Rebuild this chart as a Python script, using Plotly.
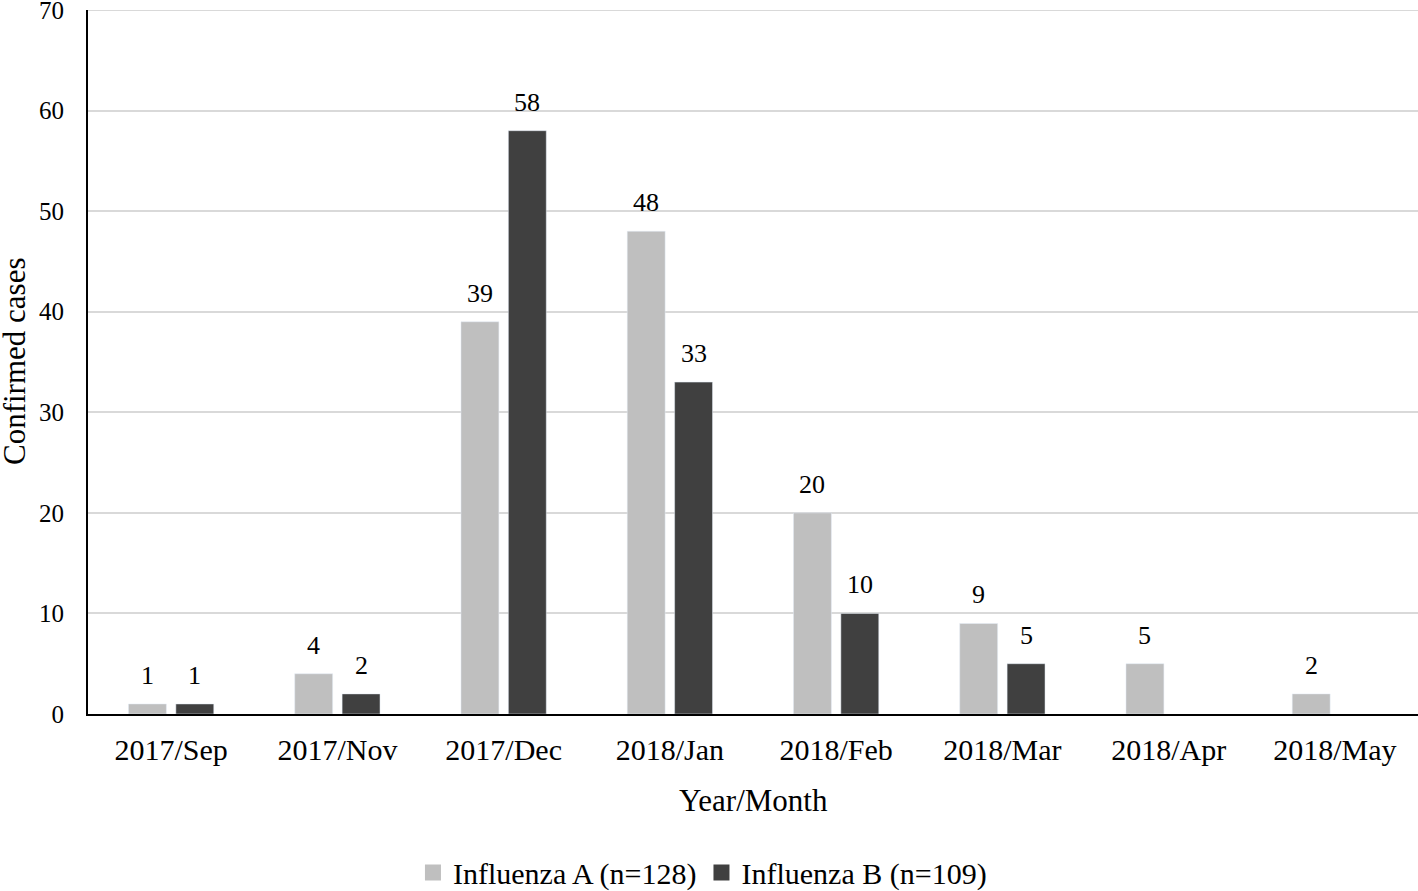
import plotly.graph_objects as go

months = ["2017/Sep", "2017/Nov", "2017/Dec", "2018/Jan", "2018/Feb", "2018/Mar", "2018/Apr", "2018/May"]
flu_a = [1, 4, 39, 48, 20, 9, 5, 2]
flu_b = [1, 2, 58, 33, 10, 5, None, None]
name_a = "Influenza A (n=128)"
name_b = "Influenza B (n=109)"
color_a = "#BFBFBF"
color_b = "#404040"
y_ticks = [0, 10, 20, 30, 40, 50, 60, 70]
y_max = 70

font_family = "Liberation Serif, Times New Roman, serif"

fig = go.Figure()
fig.add_trace(go.Bar(x=months, y=flu_a, name=name_a, marker_color=color_a, showlegend=False))
fig.add_trace(go.Bar(x=months, y=flu_b, name=name_b, marker_color=color_b, showlegend=False))
# legend entries with larger square swatches
for nm, col in [(name_a, color_a), (name_b, color_b)]:
    fig.add_trace(go.Scatter(x=[None], y=[None], mode="markers", name=nm,
                             marker=dict(symbol="square", size=17, color=col)))

# data labels above bars
half_slot = 23.7
for vals, shift in [(flu_a, -half_slot), (flu_b, half_slot)]:
    for m, v in zip(months, vals):
        if v is None:
            continue
        fig.add_annotation(x=m, y=v, xref="x", yref="y", text=str(v), showarrow=False,
                           xshift=shift, yshift=12, yanchor="bottom",
                           font=dict(size=26, family=font_family, color="black"))

# axis titles
fig.add_annotation(text="Year/Month", xref="paper", yref="paper", x=0.5, y=0,
                   yshift=-86, yanchor="middle", showarrow=False,
                   font=dict(size=31, family=font_family, color="black"))
fig.add_annotation(text="Confirmed cases", xref="paper", yref="paper", x=0, y=0.5,
                   xshift=-74, xanchor="center", yanchor="middle", textangle=-90,
                   showarrow=False, font=dict(size=31, family=font_family, color="black"))

# top gridline at the range edge
fig.add_shape(type="line", xref="paper", yref="y", x0=0, x1=1, y0=y_max, y1=y_max,
              line=dict(color="#D9D9D9", width=2), layer="below")

fig.update_layout(
    width=1418, height=891,
    margin=dict(l=88, r=0, t=10, b=177, autoexpand=False),
    paper_bgcolor="white", plot_bgcolor="white",
    barmode="group", bargap=0.43, bargroupgap=0.2,
    font=dict(family=font_family, size=24, color="black"),
    showlegend=True,
    legend=dict(orientation="h", x=0.462, xanchor="center", y=-0.225, yanchor="middle",
                font=dict(size=30, family=font_family), itemsizing="trace"),
    xaxis=dict(showline=True, linecolor="black", linewidth=2, ticks="", automargin=False,
               tickfont=dict(size=30, family=font_family), ticklabelstandoff=8),
    yaxis=dict(range=[0, y_max], tickvals=y_ticks, showline=True, linecolor="black", linewidth=2,
               showgrid=True, gridcolor="#D9D9D9", gridwidth=2, zeroline=False, automargin=False,
               tickfont=dict(size=25, family=font_family), ticks="", ticklabelstandoff=17,
               ticklabeloverflow="allow"),
)

fig.write_html("out.html", config={"displayModeBar": False},
               post_script="document.body.style.margin='0';")
